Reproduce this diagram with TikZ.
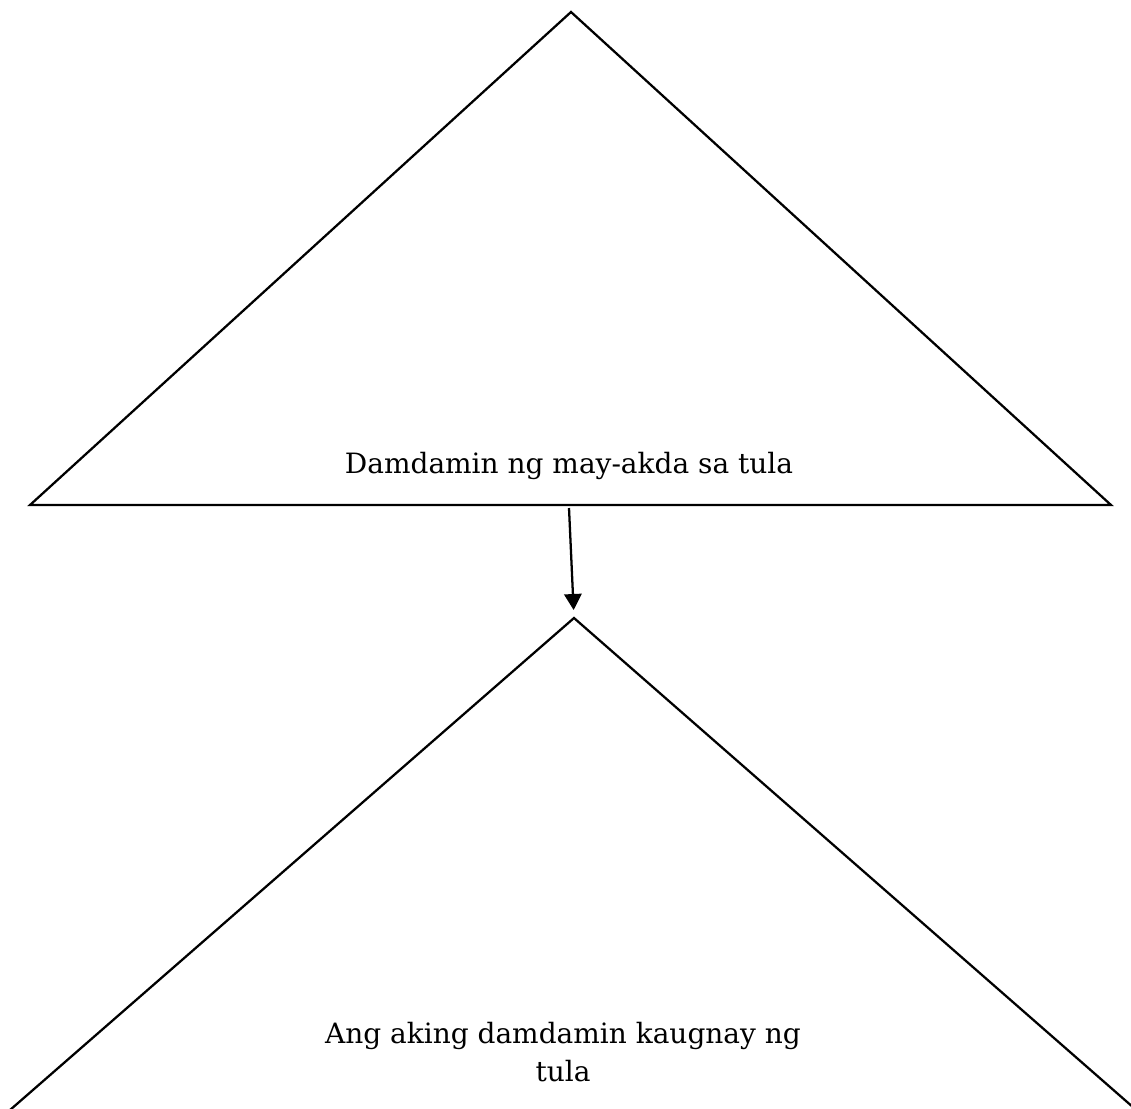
\documentclass[tikz,border=0pt]{standalone}
\usepackage{fontspec}
\setmainfont{DejaVu Serif}
\usetikzlibrary{arrows.meta}
\tikzset{
  tri/.style={draw,line width=1.7pt,line join=miter},
  feel/.style={font=\fontsize{21}{28}\selectfont,align=center,inner sep=0pt},
  link/.style={line width=1.7pt,shorten >=6pt,-{Triangle[width=13pt,length=12pt]}}
}
\begin{document}
\begin{tikzpicture}[x=0.75pt,y=-0.75pt]
  \useasboundingbox (0,0) rectangle (1131,1108);
  \clip (0,0) rectangle (1131,1108);
  \coordinate (apexA) at (571,12);
  \coordinate (leftA) at (30,505);
  \coordinate (rightA) at (1111,505);
  \coordinate (apexB) at (574,618);
  \coordinate (leftB) at (10,1110);
  \coordinate (rightB) at (1134,1108);
  \coordinate (outA) at (569,508);
  \draw[tri] (apexA)--(rightA)--(leftA)--cycle;
  \draw[tri] (leftB)--(apexB)--(rightB);
  \node[feel](feelA) at (569,466) {Damdamin ng may-akda sa tula};
  \node[feel](feelB) at (563,1052) {Ang aking damdamin kaugnay ng\\tula};
  \draw[link] (outA)--(apexB);
\end{tikzpicture}
\end{document}
